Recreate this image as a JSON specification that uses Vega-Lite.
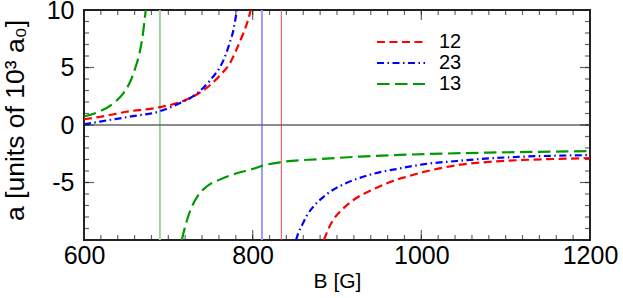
{
  "$schema": "https://vega.github.io/schema/vega-lite/v6.json",
  "width": 506,
  "height": 230,
  "autosize": {"type": "none"},
  "padding": {"left": 84, "top": 10, "right": 33, "bottom": 58},
  "background": "white",
  "config": {
    "view": {"stroke": "#222222", "strokeWidth": 2},
    "font": "Liberation Sans",
    "axis": {
      "grid": false,
      "domain": false,
      "labelColor": "#000000",
      "titleColor": "#000000",
      "labelFont": "Liberation Sans",
      "titleFont": "Liberation Sans",
      "titleFontWeight": "normal",
      "labelFlush": false,
      "labelOverlap": false
    },
    "tick": {"color": "#222222", "thickness": 1.2},
    "legend": {
      "orient": "none",
      "legendX": 306,
      "legendY": 21,
      "padding": 0,
      "symbolType": "M-2.5,0H2.5",
      "symbolSize": 369,
      "symbolStrokeWidth": 2.2,
      "labelFont": "Liberation Sans",
      "labelFontSize": 20,
      "labelFontWeight": "normal",
      "labelColor": "#000000",
      "labelOffset": 27,
      "rowPadding": 0
    }
  },
  "datasets": {
    "curves": [
      {"B": 600, "a": 0.5, "series": "12", "branch": "p"},
      {"B": 620, "a": 0.72, "series": "12", "branch": "p"},
      {"B": 650, "a": 1.15, "series": "12", "branch": "p"},
      {"B": 690, "a": 1.55, "series": "12", "branch": "p"},
      {"B": 710, "a": 1.9, "series": "12", "branch": "p"},
      {"B": 726, "a": 2.35, "series": "12", "branch": "p"},
      {"B": 745, "a": 3.2, "series": "12", "branch": "p"},
      {"B": 761, "a": 4.3, "series": "12", "branch": "p"},
      {"B": 774, "a": 5.5, "series": "12", "branch": "p"},
      {"B": 781, "a": 6.6, "series": "12", "branch": "p"},
      {"B": 789, "a": 8.0, "series": "12", "branch": "p"},
      {"B": 794, "a": 9.0, "series": "12", "branch": "p"},
      {"B": 797.7, "a": 10, "series": "12", "branch": "p"},
      {"B": 884.5, "a": -10, "series": "12", "branch": "n"},
      {"B": 890, "a": -9.0, "series": "12", "branch": "n"},
      {"B": 896, "a": -8.2, "series": "12", "branch": "n"},
      {"B": 907.5, "a": -7.25, "series": "12", "branch": "n"},
      {"B": 923, "a": -6.35, "series": "12", "branch": "n"},
      {"B": 943, "a": -5.6, "series": "12", "branch": "n"},
      {"B": 963, "a": -4.95, "series": "12", "branch": "n"},
      {"B": 985, "a": -4.45, "series": "12", "branch": "n"},
      {"B": 1002, "a": -4.1, "series": "12", "branch": "n"},
      {"B": 1042, "a": -3.5, "series": "12", "branch": "n"},
      {"B": 1081, "a": -3.2, "series": "12", "branch": "n"},
      {"B": 1121, "a": -3.04, "series": "12", "branch": "n"},
      {"B": 1160, "a": -2.95, "series": "12", "branch": "n"},
      {"B": 1200, "a": -2.88, "series": "12", "branch": "n"},
      {"B": 600, "a": 0.05, "series": "23", "branch": "p"},
      {"B": 619, "a": 0.3, "series": "23", "branch": "p"},
      {"B": 654, "a": 0.72, "series": "23", "branch": "p"},
      {"B": 690, "a": 1.2, "series": "23", "branch": "p"},
      {"B": 712, "a": 1.85, "series": "23", "branch": "p"},
      {"B": 726, "a": 2.35, "series": "23", "branch": "p"},
      {"B": 741, "a": 3.2, "series": "23", "branch": "p"},
      {"B": 753, "a": 4.2, "series": "23", "branch": "p"},
      {"B": 761, "a": 5.0, "series": "23", "branch": "p"},
      {"B": 768, "a": 6.1, "series": "23", "branch": "p"},
      {"B": 773, "a": 7.2, "series": "23", "branch": "p"},
      {"B": 777, "a": 8.2, "series": "23", "branch": "p"},
      {"B": 779.5, "a": 9.2, "series": "23", "branch": "p"},
      {"B": 781.3, "a": 10, "series": "23", "branch": "p"},
      {"B": 851.5, "a": -10, "series": "23", "branch": "n"},
      {"B": 854, "a": -9.4, "series": "23", "branch": "n"},
      {"B": 858, "a": -8.8, "series": "23", "branch": "n"},
      {"B": 864, "a": -7.9, "series": "23", "branch": "n"},
      {"B": 872, "a": -7.1, "series": "23", "branch": "n"},
      {"B": 881.5, "a": -6.4, "series": "23", "branch": "n"},
      {"B": 895, "a": -5.65, "series": "23", "branch": "n"},
      {"B": 911, "a": -5.05, "series": "23", "branch": "n"},
      {"B": 931, "a": -4.5, "series": "23", "branch": "n"},
      {"B": 951, "a": -4.1, "series": "23", "branch": "n"},
      {"B": 970.5, "a": -3.83, "series": "23", "branch": "n"},
      {"B": 1002, "a": -3.42, "series": "23", "branch": "n"},
      {"B": 1042, "a": -3.13, "series": "23", "branch": "n"},
      {"B": 1081, "a": -2.9, "series": "23", "branch": "n"},
      {"B": 1121, "a": -2.75, "series": "23", "branch": "n"},
      {"B": 1160, "a": -2.67, "series": "23", "branch": "n"},
      {"B": 1200, "a": -2.62, "series": "23", "branch": "n"},
      {"B": 600, "a": 0.75, "series": "13", "branch": "p"},
      {"B": 619, "a": 1.2, "series": "13", "branch": "p"},
      {"B": 635, "a": 1.9, "series": "13", "branch": "p"},
      {"B": 647, "a": 2.8, "series": "13", "branch": "p"},
      {"B": 655, "a": 3.8, "series": "13", "branch": "p"},
      {"B": 661, "a": 5.0, "series": "13", "branch": "p"},
      {"B": 666, "a": 6.3, "series": "13", "branch": "p"},
      {"B": 670, "a": 8.0, "series": "13", "branch": "p"},
      {"B": 673.2, "a": 10, "series": "13", "branch": "p"},
      {"B": 716, "a": -10, "series": "13", "branch": "n"},
      {"B": 719, "a": -9.1, "series": "13", "branch": "n"},
      {"B": 722, "a": -8.3, "series": "13", "branch": "n"},
      {"B": 728, "a": -7.1, "series": "13", "branch": "n"},
      {"B": 735.5, "a": -6.1, "series": "13", "branch": "n"},
      {"B": 745.5, "a": -5.35, "series": "13", "branch": "n"},
      {"B": 761, "a": -4.75, "series": "13", "branch": "n"},
      {"B": 781, "a": -4.2, "series": "13", "branch": "n"},
      {"B": 801, "a": -3.8, "series": "13", "branch": "n"},
      {"B": 811, "a": -3.55, "series": "13", "branch": "n"},
      {"B": 832, "a": -3.25, "series": "13", "branch": "n"},
      {"B": 880, "a": -2.96, "series": "13", "branch": "n"},
      {"B": 927, "a": -2.75, "series": "13", "branch": "n"},
      {"B": 975, "a": -2.6, "series": "13", "branch": "n"},
      {"B": 1030, "a": -2.48, "series": "13", "branch": "n"},
      {"B": 1081, "a": -2.4, "series": "13", "branch": "n"},
      {"B": 1140, "a": -2.33, "series": "13", "branch": "n"},
      {"B": 1200, "a": -2.27, "series": "13", "branch": "n"}
    ],
    "vlines": [
      {"B": 690, "series": "13"},
      {"B": 811, "series": "23"},
      {"B": 834, "series": "12"}
    ],
    "xminor": [
      {"B": 620}, {"B": 640}, {"B": 660}, {"B": 680}, {"B": 700}, {"B": 720}, {"B": 740}, {"B": 760}, {"B": 780}, {"B": 800},
      {"B": 820}, {"B": 840}, {"B": 860}, {"B": 880}, {"B": 900}, {"B": 920}, {"B": 940}, {"B": 960}, {"B": 980}, {"B": 1000},
      {"B": 1020}, {"B": 1040}, {"B": 1060}, {"B": 1080}, {"B": 1100}, {"B": 1120}, {"B": 1140}, {"B": 1160}, {"B": 1180}
    ],
    "xmajor": [{"B": 800}, {"B": 1000}],
    "yminor": [
      {"a": -9}, {"a": -8}, {"a": -7}, {"a": -6}, {"a": -5}, {"a": -4}, {"a": -3}, {"a": -2}, {"a": -1}, {"a": 0},
      {"a": 1}, {"a": 2}, {"a": 3}, {"a": 4}, {"a": 5}, {"a": 6}, {"a": 7}, {"a": 8}, {"a": 9}
    ],
    "ymajor": [{"a": -5}, {"a": 0}, {"a": 5}]
  },
  "layer": [
    {
      "data": {"name": "vlines"},
      "mark": {"type": "rule"},
      "encoding": {
        "x": {"field": "B", "type": "quantitative", "scale": {"domain": [600, 1200], "nice": false, "zero": false}, "axis": null},
        "stroke": {"field": "series", "type": "nominal", "scale": {"domain": ["13", "23", "12"], "range": ["#9fd29f", "#9a9aff", "#e84848"]}, "legend": null},
        "strokeWidth": {"field": "series", "type": "nominal", "scale": {"type": "ordinal", "domain": ["13", "23", "12"], "range": [2, 2, 1]}, "legend": null}
      }
    },
    {
      "data": {"values": [{"v": 0}]},
      "mark": {"type": "rule", "color": "#666666", "strokeWidth": 1.6},
      "encoding": {
        "y": {"field": "v", "type": "quantitative", "scale": {"domain": [-10, 10], "nice": false, "zero": false}, "axis": null}
      }
    },
    {
      "data": {"name": "curves"},
      "mark": {"type": "line", "strokeWidth": 2.2, "clip": true, "interpolate": "monotone"},
      "encoding": {
        "x": {"field": "B", "type": "quantitative", "scale": {"domain": [600, 1200], "nice": false, "zero": false},
          "axis": {"orient": "bottom", "values": [600, 800, 1000, 1200], "ticks": false, "tickSize": 0,
            "labelExpr": "'' + datum.value", "labelFontSize": 25, "labelPadding": 3,
            "title": "B [G]", "titleFontSize": 21, "titlePadding": 2}},
        "y": {"field": "a", "type": "quantitative", "scale": {"domain": [-10, 10], "nice": false, "zero": false},
          "axis": {"orient": "left", "values": [-5, 0, 5, 10], "ticks": false, "tickSize": 0,
            "labelExpr": "'' + datum.value", "labelFontSize": 25, "labelPadding": 10,
            "title": "a [units of 10³ a₀]", "titleFontSize": 26.5, "titleX": -69, "titleY": 110, "titleAngle": -90, "titleBaseline": "middle", "titleAlign": "center"}},
        "color": {"field": "series", "type": "nominal", "scale": {"domain": ["12", "23", "13"], "range": ["#ff0000", "#0000ff", "#009900"]}, "legend": {"title": null}},
        "strokeDash": {"field": "series", "type": "nominal", "scale": {"domain": ["12", "23", "13"], "range": [[8, 4.5], [7, 3.5, 1.5, 3.5], [12.5, 5.5]]}, "legend": {"title": null}},
        "detail": {"field": "branch"}
      }
    },
    {
      "data": {"name": "xminor"},
      "mark": {"type": "tick", "orient": "vertical", "size": 5, "yOffset": -2.5},
      "encoding": {
        "x": {"field": "B", "type": "quantitative", "scale": {"domain": [600, 1200], "nice": false, "zero": false}, "axis": null},
        "y": {"datum": -10, "type": "quantitative", "scale": {"domain": [-10, 10], "nice": false, "zero": false}, "axis": null}
      }
    },
    {
      "data": {"name": "xminor"},
      "mark": {"type": "tick", "orient": "vertical", "size": 5, "yOffset": 2.5},
      "encoding": {
        "x": {"field": "B", "type": "quantitative", "scale": {"domain": [600, 1200], "nice": false, "zero": false}, "axis": null},
        "y": {"datum": 10, "type": "quantitative", "scale": {"domain": [-10, 10], "nice": false, "zero": false}, "axis": null}
      }
    },
    {
      "data": {"name": "xmajor"},
      "mark": {"type": "tick", "orient": "vertical", "size": 10, "yOffset": -5},
      "encoding": {
        "x": {"field": "B", "type": "quantitative", "scale": {"domain": [600, 1200], "nice": false, "zero": false}, "axis": null},
        "y": {"datum": -10, "type": "quantitative", "scale": {"domain": [-10, 10], "nice": false, "zero": false}, "axis": null}
      }
    },
    {
      "data": {"name": "xmajor"},
      "mark": {"type": "tick", "orient": "vertical", "size": 10, "yOffset": 5},
      "encoding": {
        "x": {"field": "B", "type": "quantitative", "scale": {"domain": [600, 1200], "nice": false, "zero": false}, "axis": null},
        "y": {"datum": 10, "type": "quantitative", "scale": {"domain": [-10, 10], "nice": false, "zero": false}, "axis": null}
      }
    },
    {
      "data": {"name": "yminor"},
      "mark": {"type": "tick", "orient": "horizontal", "size": 5, "xOffset": 2.5},
      "encoding": {
        "x": {"datum": 600, "type": "quantitative", "scale": {"domain": [600, 1200], "nice": false, "zero": false}, "axis": null},
        "y": {"field": "a", "type": "quantitative", "scale": {"domain": [-10, 10], "nice": false, "zero": false}, "axis": null}
      }
    },
    {
      "data": {"name": "yminor"},
      "mark": {"type": "tick", "orient": "horizontal", "size": 5, "xOffset": -2.5},
      "encoding": {
        "x": {"datum": 1200, "type": "quantitative", "scale": {"domain": [600, 1200], "nice": false, "zero": false}, "axis": null},
        "y": {"field": "a", "type": "quantitative", "scale": {"domain": [-10, 10], "nice": false, "zero": false}, "axis": null}
      }
    },
    {
      "data": {"name": "ymajor"},
      "mark": {"type": "tick", "orient": "horizontal", "size": 10, "xOffset": 5},
      "encoding": {
        "x": {"datum": 600, "type": "quantitative", "scale": {"domain": [600, 1200], "nice": false, "zero": false}, "axis": null},
        "y": {"field": "a", "type": "quantitative", "scale": {"domain": [-10, 10], "nice": false, "zero": false}, "axis": null}
      }
    },
    {
      "data": {"name": "ymajor"},
      "mark": {"type": "tick", "orient": "horizontal", "size": 10, "xOffset": -5},
      "encoding": {
        "x": {"datum": 1200, "type": "quantitative", "scale": {"domain": [600, 1200], "nice": false, "zero": false}, "axis": null},
        "y": {"field": "a", "type": "quantitative", "scale": {"domain": [-10, 10], "nice": false, "zero": false}, "axis": null}
      }
    }
  ],
  "resolve": {"axis": {"x": "independent", "y": "independent"}}
}
